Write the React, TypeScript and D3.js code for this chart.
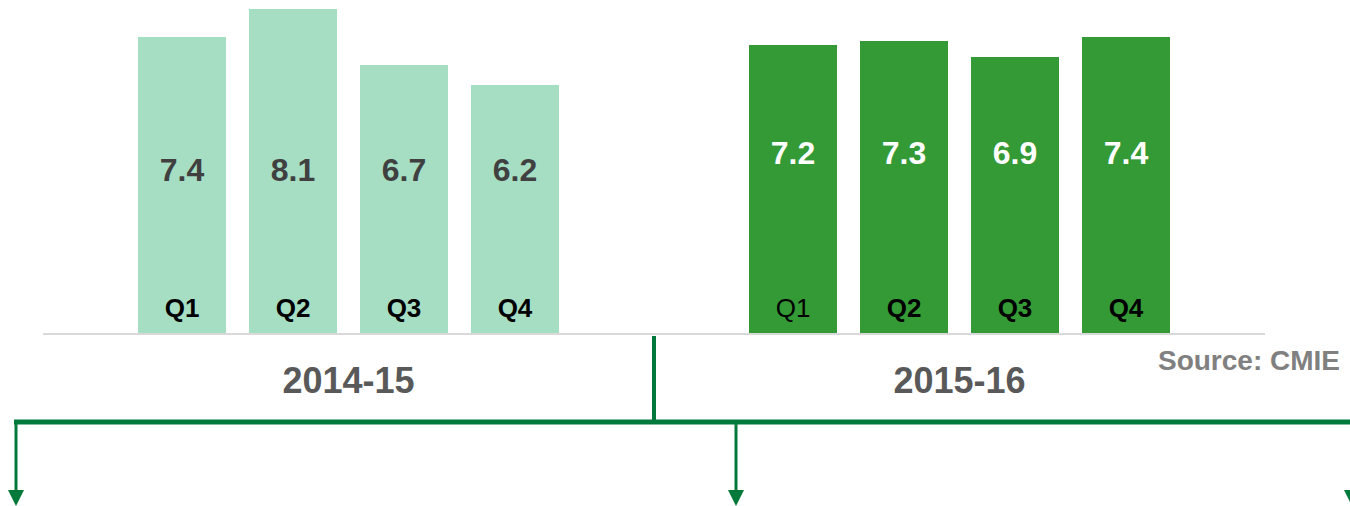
import React from "react";
import * as d3 from "d3";

const groups = ["2014-15", "2015-16"];
const quarters = ["Q1", "Q2", "Q3", "Q4"];
const values2014 = [7.4, 8.1, 6.7, 6.2];
const values2015 = [7.2, 7.3, 6.9, 7.4];
const sourceText = "Source: CMIE";

const W = 1350;
const H = 506;
const FONT = "'Liberation Sans', Arial, Helvetica, sans-serif";
const GREEN_LINE = "#00793A";

export default function App() {
  const series = [values2014, values2015];
  const x0 = d3.scaleBand<string>().domain(groups).range([43, 1265]).padding(0);
  const x1 = d3
    .scaleBand<string>()
    .domain(quarters)
    .range([0, x0.bandwidth()])
    .paddingInner(0.207)
    .paddingOuter(0.856);
  const y = d3.scaleLinear().domain([0, 8.325]).range([333, 0]);

  const groupStyle = [
    { fill: "#A6DEC4", label: "#404040", valueBaseline: 181, qBold: [true, true, true, true] },
    { fill: "#349A35", label: "#FFFFFF", valueBaseline: 164, qBold: [false, true, true, true] },
  ];

  const divX = x0(groups[1]) as number;
  const lineY = 422;
  const arrowXs = [16, 736, 1352];

  return (
    <svg
      width={W}
      height={H}
      style={{ position: "absolute", left: 0, top: 0, display: "block", background: "#fff" }}
      fontFamily={FONT}
    >
      {groups.map((g, gi) => {
        const gx = x0(g) as number;
        const st = groupStyle[gi];
        return (
          <g key={g}>
            {quarters.map((q, qi) => {
              const v = series[gi][qi];
              const bx = gx + (x1(q) as number);
              const cx = bx + x1.bandwidth() / 2;
              return (
                <g key={q}>
                  <rect x={bx} y={y(v)} width={x1.bandwidth()} height={y(0) - y(v)} fill={st.fill} />
                  <text
                    x={cx}
                    y={st.valueBaseline}
                    textAnchor="middle"
                    fontSize={32}
                    fontWeight="bold"
                    fill={st.label}
                  >
                    {v.toFixed(1)}
                  </text>
                  <text
                    x={cx}
                    y={317}
                    textAnchor="middle"
                    fontSize={26}
                    fontWeight={st.qBold[qi] ? "bold" : "normal"}
                    fill="#000"
                  >
                    {q}
                  </text>
                </g>
              );
            })}
            <text
              x={gx + x0.bandwidth() / 2}
              y={393}
              textAnchor="middle"
              fontSize={36}
              fontWeight="bold"
              fill="#595959"
            >
              {g}
            </text>
          </g>
        );
      })}
      <line x1={43} x2={1265} y1={y(0) + 1} y2={y(0) + 1} stroke="#D9D9D9" strokeWidth={2} />
      <text x={1340} y={370} textAnchor="end" fontSize={28} fontWeight="bold" fill="#808080">
        {sourceText}
      </text>
      <line x1={divX} x2={divX} y1={336} y2={lineY} stroke={GREEN_LINE} strokeWidth={4} />
      <line x1={14} x2={W} y1={lineY} y2={lineY} stroke={GREEN_LINE} strokeWidth={5} />
      {arrowXs.map((ax) => (
        <g key={ax}>
          <line x1={ax} x2={ax} y1={lineY} y2={492} stroke={GREEN_LINE} strokeWidth={3} />
          <path d={`M${ax - 8},490 L${ax + 8},490 L${ax},506 Z`} fill={GREEN_LINE} />
        </g>
      ))}
    </svg>
  );
}
